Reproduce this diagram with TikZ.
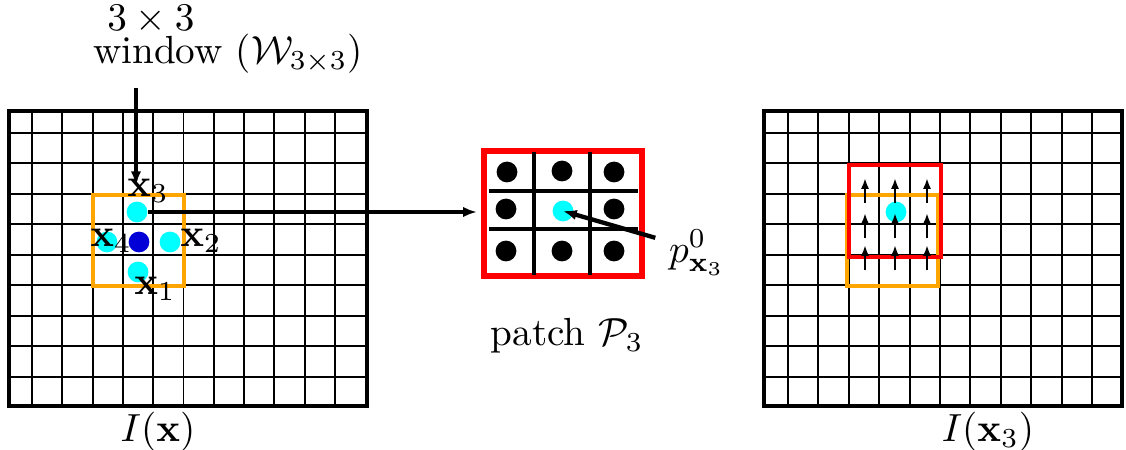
\documentclass[tikz,border=0pt]{standalone}
\usepackage{xcolor}
\usepackage{tikz}
\usetikzlibrary{arrows.meta,positioning,calc}
\definecolor{winOrange}{HTML}{FFA500}
\definecolor{sampleCyan}{RGB}{0,255,255}
\definecolor{centreBlue}{RGB}{0,0,215}

\begin{document}
\begin{tikzpicture}[
    x=0.255pt, y=-0.255pt,
    frame/.style={draw, line width=1.1pt},
    gridline/.style={line width=0.5pt},
    window/.style={draw=winOrange, line width=0.9pt},
    patchbox/.style={draw=red, line width=1.1pt},
    dot/.style={circle, fill=black, inner sep=0pt, minimum size=5.3pt},
    sample/.style={dot, fill=sampleCyan},
    arrow/.style={-{Latex[length=3.5pt]}, line width=1.1pt},
    shiftarrow/.style={-{Latex[length=2.8pt]}, line width=0.6pt}
]
\useasboundingbox (0,0) rectangle (1126,450);

\foreach \i in {0,...,10} \draw[gridline] (32+30.3*\i,111) -- (32+30.3*\i,406);
\foreach \j in {0,...,8} \draw[gridline] (9,133+30.45*\j) -- (367,133+30.45*\j);
\draw[frame] (9,111) rectangle (367,406);
\draw[window] (93,195) rectangle (184,286);

\node[sample] (n3) at (137,212) {};
\node[sample] (n4) at (107,242) {};
\node[sample] (n2) at (170,242) {};
\node[sample] (n1) at (138,272) {};
\node[dot, fill=centreBlue] (ctr) at (139,242) {};

\node (l3) at (148,191) {$\mathbf{x}_3$};
\node (l4) at (111,241) {$\mathbf{x}_4$};
\node (l2) at (201,241) {$\mathbf{x}_2$};
\node (l1) at (155,289) {$\mathbf{x}_1$};

\node[inner sep=0pt] (size) at (151,20) {$3\times 3$};
\node[inner sep=0pt] (win) at (228,54) {window ($\mathcal{W}_{3\times 3}$)};
\coordinate (wtail) at (136,88);
\draw[arrow, shorten >=4pt] (wtail) -- (wtail |- n3.north);

\node[patchbox, inner sep=0pt, minimum width=39.8pt, minimum height=31.4pt] (patch) at (563,213.5) {};
\draw[line width=1.1pt] (534,152) -- (534,275) (590,152) -- (590,275);
\draw[line width=1.1pt] (489,191) -- (638,191) (489,229) -- (638,229);
\node[dot] (p1) at (507,172) {};
\node[dot] (p2) at (562,171) {};
\node[dot] (p3) at (614,172) {};
\node[dot] (p4) at (506,209) {};
\node[sample] (pc) at (563,211) {};
\node[dot] (p6) at (614,209) {};
\node[dot] (p7) at (506,251) {};
\node[dot] (p8) at (562,251) {};
\node[dot] (p9) at (614,251) {};
\draw[patchbox] (patch.north west) rectangle (patch.south east);

\draw[arrow, shorten >=1.5pt] (n3.east) -- (n3.east -| patch.west);

\node (plabel) at (697,253) {$p^0_{\mathbf{x}_3}$};
\draw[arrow] (plabel.160) -- (pc.center);
\node (pname) at (567,336) {patch $\mathcal{P}_3$};

\foreach \i in {0,...,10} \draw[gridline] (788+30.4*\i,111) -- (788+30.4*\i,406);
\foreach \j in {0,...,8} \draw[gridline] (764,133+30.45*\j) -- (1122,133+30.45*\j);
\draw[frame] (764,111) rectangle (1122,406);
\draw[window] (847,195) rectangle (938,286);
\draw[patchbox] (849,165) rectangle (941,257);
\node[sample] (s3) at (896,212) {};
\foreach \x in {865,895,927}
  \foreach \y in {203,238,270}
    \draw[shiftarrow] (\x,\y) -- ++(0,-25);

\node (img) at (158,432) {$I(\mathbf{x})$};
\node (imgshift) at (988,432) {$I(\mathbf{x}_3)$};

\end{tikzpicture}
\end{document}
